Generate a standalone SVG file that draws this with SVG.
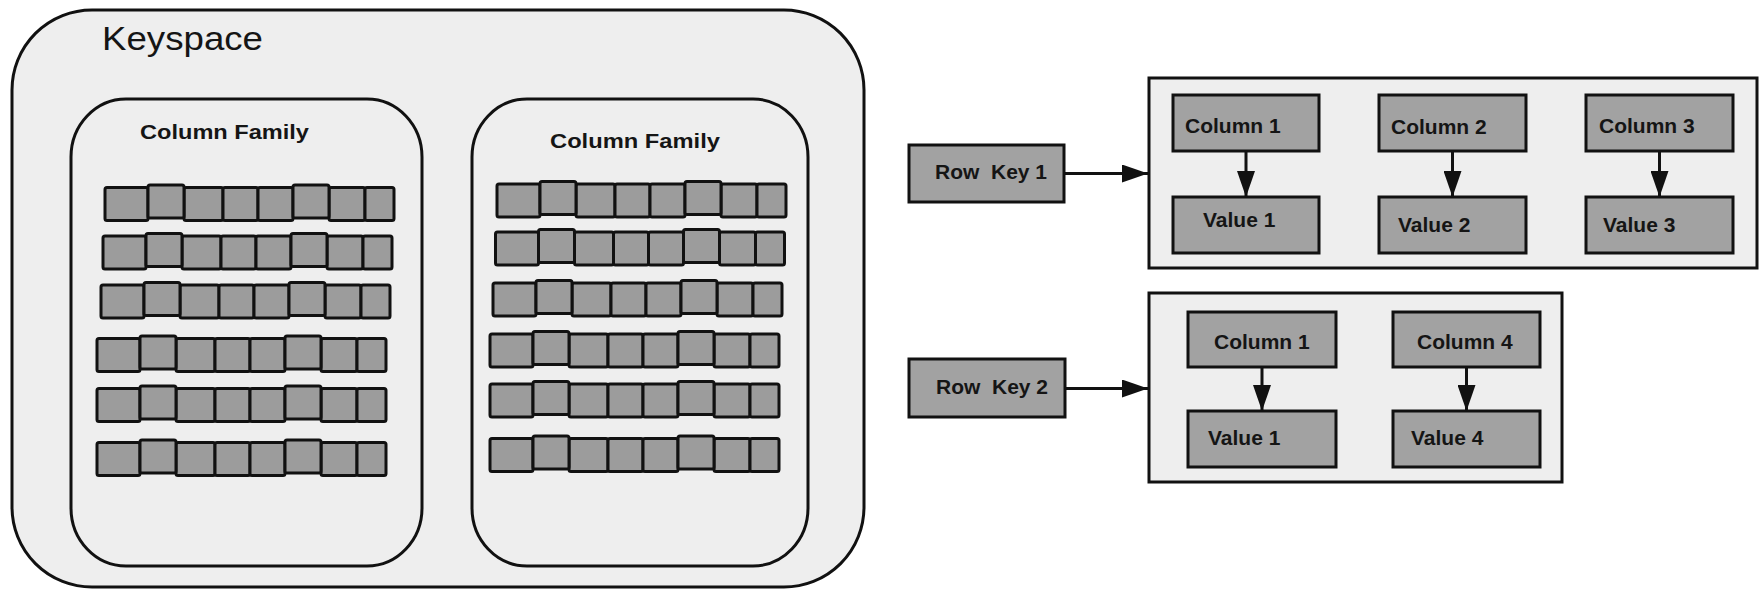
<svg xmlns="http://www.w3.org/2000/svg" xmlns:xlink="http://www.w3.org/1999/xlink" width="1760" height="589" viewBox="0 0 1760 589">
  <style>
    .bg { fill: #eeeeee; stroke: #111111; stroke-width: 3; }
    .cell { fill: #9c9c9c; stroke: #111111; stroke-width: 3; }
    .box { fill: #a2a2a2; stroke: #111111; stroke-width: 3; }
    .lbl { font-family: "Liberation Sans", Arial, sans-serif; font-weight: bold; font-size: 21px; fill: #151515; }
    .title { font-family: "Liberation Sans", Arial, sans-serif; font-size: 33px; fill: #151515; }
    .conn { stroke: #111111; stroke-width: 3; fill: none; }
  </style>
  <defs>
    <marker id="arrow" viewBox="0 0 26 18" refX="26" refY="9" markerWidth="26" markerHeight="18" markerUnits="userSpaceOnUse" orient="auto">
      <path d="M0,0 L26,9 L0,18 Z" fill="#111111"/>
    </marker>
    <g id="rowTpl">
      <rect class="cell" x="0" y="0" width="43" height="33" rx="2"/>
      <rect class="cell" x="79" y="0" width="39" height="33" rx="2"/>
      <rect class="cell" x="118" y="0" width="35" height="33" rx="2"/>
      <rect class="cell" x="153" y="0" width="35" height="33" rx="2"/>
      <rect class="cell" x="224" y="0" width="36" height="33" rx="2"/>
      <rect class="cell" x="260" y="0" width="29" height="33" rx="2"/>
      <rect class="cell" x="43" y="-2.5" width="36" height="33" rx="2"/>
      <rect class="cell" x="188" y="-2.5" width="36" height="33" rx="2"/>
    </g>
  </defs>

  <rect width="1760" height="589" fill="#ffffff"/>

  <g id="keyspace">
    <rect class="bg" x="12" y="10" width="852" height="577" rx="80" ry="80"/>
    <text class="title" x="102" y="50" textLength="161" lengthAdjust="spacingAndGlyphs">Keyspace</text>
  </g>

  <g id="column-family-1">
    <rect class="bg" x="71" y="99" width="351" height="467" rx="55" ry="58"/>
    <text class="lbl" x="140" y="139" textLength="169" lengthAdjust="spacingAndGlyphs">Column Family</text>
    <use xlink:href="#rowTpl" x="105" y="187.5"/>
    <use xlink:href="#rowTpl" x="103" y="236"/>
    <use xlink:href="#rowTpl" x="101" y="285"/>
    <use xlink:href="#rowTpl" x="97" y="338.5"/>
    <use xlink:href="#rowTpl" x="97" y="388.5"/>
    <use xlink:href="#rowTpl" x="97" y="442.5"/>
  </g>

  <g id="column-family-2">
    <rect class="bg" x="472" y="99" width="336" height="467" rx="55" ry="58"/>
    <text class="lbl" x="550" y="148" textLength="170" lengthAdjust="spacingAndGlyphs">Column Family</text>
    <use xlink:href="#rowTpl" x="497" y="184"/>
    <use xlink:href="#rowTpl" x="495.5" y="232"/>
    <use xlink:href="#rowTpl" x="493" y="283"/>
    <use xlink:href="#rowTpl" x="490" y="334"/>
    <use xlink:href="#rowTpl" x="490" y="384"/>
    <use xlink:href="#rowTpl" x="490" y="438.5"/>
  </g>

  <g id="row-key-1">
    <rect class="box" x="909" y="145" width="155" height="57"/>
    <text class="lbl" x="935" y="179" xml:space="preserve">Row  Key 1</text>
  </g>

  <g id="row-1-columns">
    <rect class="bg" x="1149" y="78" width="608" height="190"/>
  </g>
  <g id="r1-column-1">
    <rect class="box" x="1173" y="95" width="146" height="56"/>
    <text class="lbl" x="1185" y="133">Column 1</text>
  </g>
  <g id="r1-value-1">
    <rect class="box" x="1173" y="197" width="146" height="56"/>
    <text class="lbl" x="1203" y="227">Value 1</text>
  </g>
  <g id="r1-column-2">
    <rect class="box" x="1379" y="95" width="147" height="56"/>
    <text class="lbl" x="1391" y="134">Column 2</text>
  </g>
  <g id="r1-value-2">
    <rect class="box" x="1379" y="197" width="147" height="56"/>
    <text class="lbl" x="1398" y="232">Value 2</text>
  </g>
  <g id="r1-column-3">
    <rect class="box" x="1586" y="95" width="147" height="56"/>
    <text class="lbl" x="1599" y="133">Column 3</text>
  </g>
  <g id="r1-value-3">
    <rect class="box" x="1586" y="197" width="147" height="56"/>
    <text class="lbl" x="1603" y="232">Value 3</text>
  </g>

  <g id="row-key-2">
    <rect class="box" x="909" y="359" width="156" height="58"/>
    <text class="lbl" x="936" y="394" xml:space="preserve">Row  Key 2</text>
  </g>

  <g id="row-2-columns">
    <rect class="bg" x="1149" y="293" width="413" height="189"/>
  </g>
  <g id="r2-column-1">
    <rect class="box" x="1188" y="312" width="148" height="55"/>
    <text class="lbl" x="1214" y="349">Column 1</text>
  </g>
  <g id="r2-value-1">
    <rect class="box" x="1188" y="411" width="148" height="56"/>
    <text class="lbl" x="1208" y="445">Value 1</text>
  </g>
  <g id="r2-column-4">
    <rect class="box" x="1393" y="312" width="147" height="55"/>
    <text class="lbl" x="1417" y="349">Column 4</text>
  </g>
  <g id="r2-value-4">
    <rect class="box" x="1393" y="411" width="147" height="56"/>
    <text class="lbl" x="1411" y="445">Value 4</text>
  </g>

  <g id="connectors">
    <line class="conn" x1="1064" y1="173.5" x2="1148" y2="173.5" marker-end="url(#arrow)"/>
    <line class="conn" x1="1065" y1="388.5" x2="1148" y2="388.5" marker-end="url(#arrow)"/>
    <line class="conn" x1="1246" y1="151" x2="1246" y2="197" marker-end="url(#arrow)"/>
    <line class="conn" x1="1452.5" y1="151" x2="1452.5" y2="197" marker-end="url(#arrow)"/>
    <line class="conn" x1="1659.5" y1="151" x2="1659.5" y2="197" marker-end="url(#arrow)"/>
    <line class="conn" x1="1262" y1="367" x2="1262" y2="411" marker-end="url(#arrow)"/>
    <line class="conn" x1="1466.5" y1="367" x2="1466.5" y2="411" marker-end="url(#arrow)"/>
  </g>
</svg>
